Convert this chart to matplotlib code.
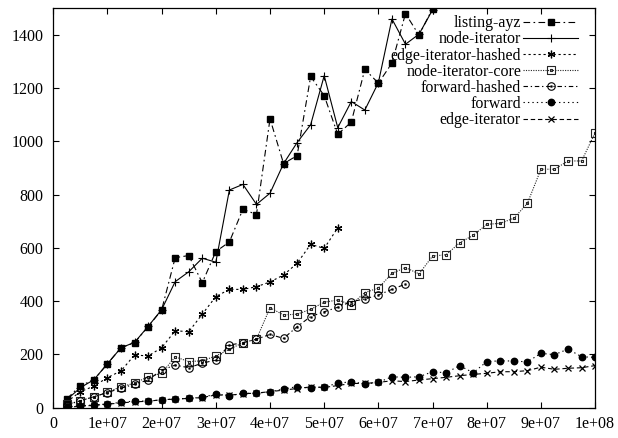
import numpy as np
import matplotlib
matplotlib.use("Agg")
import matplotlib.pyplot as plt
from matplotlib.path import Path
from matplotlib.ticker import FixedLocator, FuncFormatter

plt.rcParams['font.family'] = ['Liberation Serif', 'DejaVu Serif']
plt.rcParams['font.size'] = 11.5

step = 2.5e6

listing_ayz = [33, 83, 104, 165, 225, 244, 304, 367, 563, 571, 469, 586, 622, 745,
               725, 1084, 916, 946, 1243, 1171, 1026, 1072, 1270, 1218, 1293, 1479,
               1398, 1498]
node_iterator = [30, 75, 105, 165, 225, 245, 305, 368, 473, 510, 561, 546, 817, 838,
                 763, 805, 916, 995, 1062, 1246, 1051, 1149, 1117, 1220, 1459, 1364,
                 1402, 1493]
edge_iterator_hashed = [22, 60, 81, 113, 138, 198, 194, 225, 289, 285, 351, 417, 444,
                        444, 454, 472, 498, 542, 613, 598, 675]
node_iterator_core = [12, 26, 41, 58, 79, 92, 116, 129, 191, 173, 176, 194, 219, 244,
                      257, 375, 348, 351, 369, 396, 404, 387, 432, 449, 504, 526, 502,
                      569, 574, 619, 647, 688, 692, 711, 767, 895, 895, 926, 926, 1032]
forward_hashed = [10, 26, 41, 57, 73, 88, 104, 141, 160, 150, 167, 179, 235, 244, 257,
                  275, 260, 304, 342, 360, 377, 398, 408, 423, 444, 464]
forward = [3, 7, 10, 14, 20, 25, 25, 29, 33, 35, 39, 51, 45, 54, 54, 60, 70, 79, 73,
           79, 91, 98, 89, 95, 116, 114, 116, 135, 131, 158, 131, 173, 176, 175, 172,
           204, 199, 220, 191, 189]
edge_iterator = [2, 5, 9, 13, 18, 22, 24, 30, 32, 35, 38, 48, 47, 52, 55, 60, 66, 72,
                 78, 76, 83, 91, 91, 95, 101, 98, 104, 109, 114, 120, 125, 129, 135,
                 135, 139, 152, 144, 148, 150, 158]

x_ticks = [0, 1e7, 2e7, 3e7, 4e7, 5e7, 6e7, 7e7, 8e7, 9e7, 1e8]
y_ticks = [0, 200, 400, 600, 800, 1000, 1200, 1400]


def dotted_marker(outline):
    """Open outline marker with a small dot in its centre."""
    dot = Path.unit_rectangle()
    dot = Path(dot.vertices * 0.16 - 0.08, dot.codes)
    return Path.make_compound_path(outline, dot)


sq = Path.unit_rectangle()
sq = Path(sq.vertices - 0.5, sq.codes)
circ = Path.unit_circle()
circ = Path(circ.vertices * 0.5, circ.codes)
sq_dot = dotted_marker(sq)
circ_dot = dotted_marker(circ)

fig = plt.figure(figsize=(6.18, 4.38), dpi=100)
ax = fig.add_axes([0.0862, 0.0692, 0.8768, 0.9125])

lw = 0.8
series = [
    ("listing-ayz", listing_ayz, dict(ls=(0, (6, 3, 1.5, 3)), marker='s', ms=4.6,
                                       mfc='black', mec='black')),
    ("node-iterator", node_iterator, dict(ls='-', marker='+', ms=6, mew=0.8)),
    ("edge-iterator-hashed", edge_iterator_hashed,
     dict(ls=(0, (2, 2.5)), marker=(6, 2, 0), ms=5.5, mew=0.9)),
    ("node-iterator-core", node_iterator_core,
     dict(ls=(0, (1, 1.2)), marker=sq_dot, ms=5.4, mfc='none', mew=0.8, color='0.15')),
    ("forward-hashed", forward_hashed,
     dict(ls=(0, (4, 2.5, 1.2, 2.5)), marker=circ_dot, ms=5.4, mfc='none', mew=0.8)),
    ("forward", forward, dict(ls=(0, (1.2, 2.8)), marker='o', ms=4.6, mfc='black')),
    ("edge-iterator", edge_iterator, dict(ls=(0, (4, 2.5)), marker='x', ms=4.6, mew=0.9)),
]

for label, vals, style in series:
    xs = step * np.arange(1, len(vals) + 1)
    kw = dict(color='black', lw=lw)
    kw.update(style)
    ax.plot(xs, vals, label=label, **kw)

ax.set_xlim(0, 1e8)
ax.set_ylim(0, 1500)
ax.xaxis.set_major_locator(FixedLocator(x_ticks))
ax.yaxis.set_major_locator(FixedLocator(y_ticks))


def gfmt(v, pos):
    if v == 0:
        return "0"
    return "%.0e" % v


ax.xaxis.set_major_formatter(FuncFormatter(gfmt))
ax.tick_params(direction='in', length=4.3, width=0.8, top=True, right=True,
               labelsize=11.5)
ax.tick_params(axis='x', pad=6)
ax.tick_params(axis='y', pad=7)
for s in ax.spines.values():
    s.set_linewidth(0.9)

leg = ax.legend(loc='upper right', bbox_to_anchor=(0.968, 0.982), frameon=False,
                markerfirst=False, handlelength=3.4, handletextpad=0.15,
                labelspacing=0.01, borderaxespad=0, borderpad=0,
                fontsize=11.5)

fig.savefig("out.png", dpi=100)
